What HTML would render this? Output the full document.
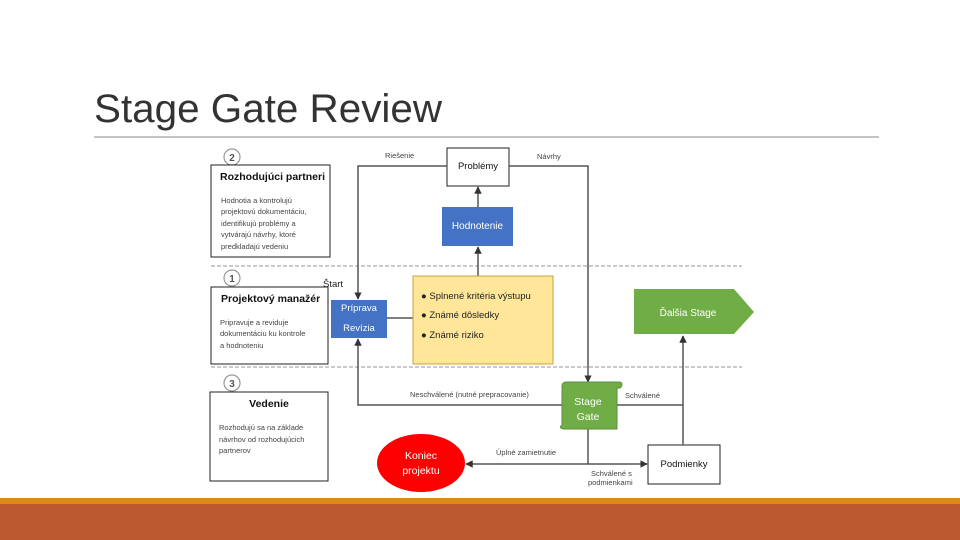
<!DOCTYPE html>
<html><head><meta charset="utf-8"><style>
html,body{margin:0;padding:0;background:#fff}
svg{display:block}
text{font-family:"Liberation Sans","DejaVu Sans",sans-serif}
</style></head><body>
<svg width="960" height="540" viewBox="0 0 960 540" xmlns="http://www.w3.org/2000/svg">
<defs><marker id="a" viewBox="0 0 10 10" refX="9" refY="5" markerWidth="5" markerHeight="5" orient="auto"><path d="M0,0L10,5L0,10z" fill="#333"/></marker></defs>
<text x="94" y="122" font-size="40" fill="#333" textLength="348" lengthAdjust="spacingAndGlyphs">Stage Gate Review</text>
<line x1="94" y1="137" x2="879" y2="137" stroke="#a0a0a0" stroke-width="1.2"/>
<rect x="0" y="498" width="960" height="6" fill="#e0861c"/>
<rect x="0" y="504" width="960" height="36" fill="#bb5a2e"/>

<g stroke="#aaa" stroke-dasharray="4,2" stroke-width="1.2">
<line x1="211" y1="266" x2="742" y2="266"/><line x1="211" y1="367" x2="742" y2="367"/></g>

<g fill="#fff" stroke="#999" stroke-width="1.2"><circle cx="232" cy="157" r="8"/><circle cx="232" cy="278" r="8"/><circle cx="232" cy="383" r="8"/></g>
<g font-size="10" font-weight="bold" fill="#555" text-anchor="middle"><text x="232" y="161">2</text><text x="232" y="282">1</text><text x="232" y="387">3</text></g>

<g fill="#fff" stroke="#222" stroke-width="1">
<rect x="211" y="165" width="119" height="92"/><rect x="211" y="287" width="117" height="77"/><rect x="210" y="392" width="118" height="89"/>
<rect x="447" y="148" width="62" height="38"/><rect x="648" y="445" width="72" height="39"/></g>
<g font-size="10.5" font-weight="bold" fill="#111"><text x="220" y="180">Rozhodujúci partneri</text><text x="221" y="302">Projektový manažér</text><text x="269" y="407" text-anchor="middle">Vedenie</text></g>
<g font-size="7.5" fill="#444">
<text x="221" y="203">Hodnotia a kontrolujú</text><text x="221" y="214">projektovú dokumentáciu,</text><text x="221" y="226">identifikujú problémy a</text><text x="221" y="237">vytvárajú návrhy, ktoré</text><text x="221" y="249">predkladajú vedeniu</text>
<text x="220" y="325">Pripravuje a reviduje</text><text x="220" y="336">dokumentáciu ku kontrole</text><text x="220" y="348">a hodnoteniu</text>
<text x="219" y="430">Rozhodujú sa na základe</text><text x="219" y="442">návrhov od rozhodujúcich</text><text x="219" y="453">partnerov</text>
<text x="385" y="158">Riešenie</text><text x="537" y="159">Návrhy</text>
<text x="410" y="397">Neschválené (nutné prepracovanie)</text><text x="625" y="398">Schválené</text>
<text x="496" y="455">Úplné zamietnutie</text>
<text x="591" y="476">Schválené s</text><text x="588" y="485">podmienkami</text></g>
<text x="323" y="287" font-size="9.5" fill="#222">Štart</text>

<g stroke="#555" stroke-width="1.5" fill="none">
<polyline points="447,166 358,166 358,299" marker-end="url(#a)"/>
<polyline points="509,166 588,166 588,382" marker-end="url(#a)"/>
<line x1="478" y1="276" x2="478" y2="247" marker-end="url(#a)"/>
<line x1="478" y1="207" x2="478" y2="187" marker-end="url(#a)"/>
<line x1="387" y1="318" x2="413" y2="318"/>
<polyline points="562,405 358,405 358,339" marker-end="url(#a)"/>
<line x1="617" y1="405" x2="683" y2="405"/>
<line x1="683" y1="445" x2="683" y2="336" marker-end="url(#a)"/>
<line x1="588" y1="428" x2="588" y2="464"/>
<line x1="588" y1="464" x2="466" y2="464" marker-end="url(#a)"/>
<line x1="588" y1="464" x2="647" y2="464" marker-end="url(#a)"/>
</g>

<rect x="442" y="207" width="71" height="39" fill="#4472c4"/>
<text x="477.5" y="229" font-size="10" fill="#fff" text-anchor="middle">Hodnotenie</text>
<rect x="331" y="300" width="56" height="38" fill="#4472c4"/>
<text x="359" y="311" font-size="9.5" fill="#fff" text-anchor="middle">Príprava</text>
<text x="359" y="331" font-size="9.5" fill="#fff" text-anchor="middle">Revízia</text>

<rect x="413" y="276" width="140" height="88" fill="#ffe699" stroke="#c9a33a" stroke-width="1"/>
<g font-size="9.5" fill="#222"><text x="421" y="299">● Splnené kritéria výstupu</text><text x="421" y="318">● Známé dôsledky</text><text x="421" y="338">● Známé riziko</text></g>

<path d="M634,289 L734,289 L754,312 L734,334 L634,334 Z" fill="#70ad47"/>
<text x="688" y="316" font-size="10" fill="#fff" text-anchor="middle">Ďalšia Stage</text>

<path d="M562,386 Q562,382 567,382 L620,382 Q624,384 620,388 L617,388 L617,429 L564,429 Q558,428 562,425 L562,386 Z" fill="#70ad47" stroke="#5a8f38" stroke-width="1"/>
<text x="588" y="405" font-size="10.5" fill="#fff" text-anchor="middle">Stage</text>
<text x="588" y="420" font-size="10.5" fill="#fff" text-anchor="middle">Gate</text>

<ellipse cx="421" cy="463" rx="44" ry="29" fill="#ff0000"/>
<text x="421" y="459" font-size="10.5" fill="#fff" text-anchor="middle">Koniec</text>
<text x="421" y="474" font-size="10.5" fill="#fff" text-anchor="middle">projektu</text>
<text x="684" y="467" font-size="9.5" fill="#111" text-anchor="middle">Podmienky</text>
<text x="478" y="169" font-size="9.5" fill="#111" text-anchor="middle">Problémy</text>
</svg>
</body></html>
